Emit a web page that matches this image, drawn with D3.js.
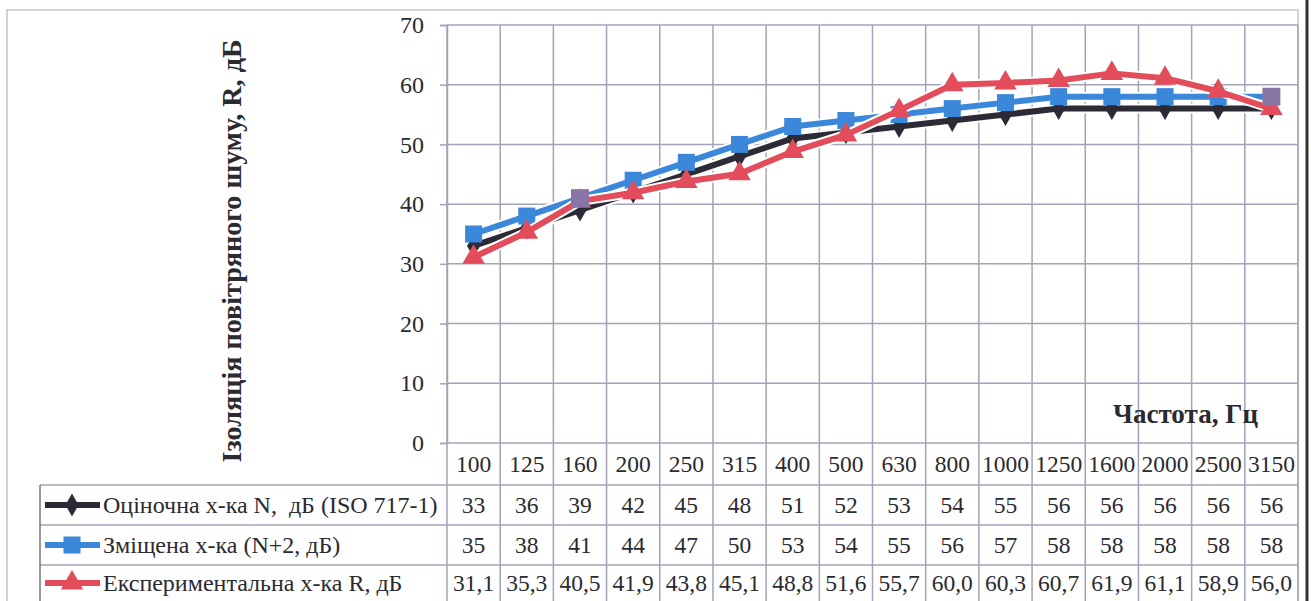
<!DOCTYPE html>
<html>
<head>
<meta charset="utf-8">
<script src="https://cdn.jsdelivr.net/npm/d3@7"></script>
<style>
  body { margin: 0; background: #fff; }
  svg { display: block; }
  text { font-family: "Liberation Serif", "Times New Roman", serif; fill: #2a2a30; white-space: pre; }
</style>
</head>
<body>
<svg id="chart" width="1311" height="601"></svg>
<script>
// ---- data ----
const frequencies = ["100","125","160","200","250","315","400","500","630","800","1000","1250","1600","2000","2500","3150"];
const seriesNames = ["Оціночна х-ка N,  дБ (ISO 717-1)", "Зміщена х-ка (N+2, дБ)", "Експериментальна х-ка R, дБ"];
const valuesN  = [33,36,39,42,45,48,51,52,53,54,55,56,56,56,56,56];
const valuesN2 = [35,38,41,44,47,50,53,54,55,56,57,58,58,58,58,58];
const valuesR  = [31.1,35.3,40.5,41.9,43.8,45.1,48.8,51.6,55.7,60.0,60.3,60.7,61.9,61.1,58.9,56.0];
const labelsN  = ["33","36","39","42","45","48","51","52","53","54","55","56","56","56","56","56"];
const labelsN2 = ["35","38","41","44","47","50","53","54","55","56","57","58","58","58","58","58"];
const labelsR  = ["31,1","35,3","40,5","41,9","43,8","45,1","48,8","51,6","55,7","60,0","60,3","60,7","61,9","61,1","58,9","56,0"];
const yTicks = [0,10,20,30,40,50,60,70];
const highlightFreqs = ["160","3150"];
const yTitle = "Ізоляція повітряного шуму, R, дБ";
const xTitle = "Частота, Гц";

// ---- layout ----
const svg = d3.select("#chart");
const L = 447, R = 1298, T = 25, B = 443;
const rowY = [443, 485, 525, 565, 601];
const legendLeft = 40;
const gridColor = "#a3a3b8";
const fs = 23.5;

const x = d3.scaleBand().domain(frequencies).range([L, R]);
const y = d3.scaleLinear().domain([0, 70]).range([B, T]);

// outer chart frame
svg.append("rect").attr("x", 7).attr("y", 10).attr("width", R - 7).attr("height", 620)
  .attr("fill", "none").attr("stroke", "#c4c4cc").attr("stroke-width", 1.5);
svg.append("line").attr("x1", 1307).attr("x2", 1307).attr("y1", 0).attr("y2", 601)
  .attr("stroke", "#333").attr("stroke-width", 3);

// horizontal gridlines
svg.append("g").selectAll("line").data(yTicks.filter(d => d > 0)).join("line")
  .attr("x1", L).attr("x2", R).attr("y1", d => y(d)).attr("y2", d => y(d))
  .attr("stroke", gridColor).attr("stroke-width", 1.5);

// vertical gridlines (category boundaries), extend through table
const bounds = frequencies.map(f => x(f)).concat([R]);
svg.append("g").selectAll("line").data(bounds).join("line")
  .attr("x1", d => d).attr("x2", d => d).attr("y1", T).attr("y2", 601)
  .attr("stroke", gridColor).attr("stroke-width", 1.5);

// y axis
const yAxis = d3.axisLeft(y).tickValues(yTicks).tickSize(7).tickPadding(16);
const ya = svg.append("g").attr("transform", `translate(${L},0)`).call(yAxis);
ya.select(".domain").attr("stroke", gridColor).attr("stroke-width", 1.5);
ya.selectAll(".tick line").attr("stroke", gridColor).attr("stroke-width", 1.5);
ya.selectAll(".tick text").attr("font-size", 24).attr("fill", "#2a2a30")
  .style("font-family", "'Liberation Serif', serif");

// table horizontal lines
rowY.slice(0, 4).forEach((yy, i) => {
  svg.append("line").attr("x1", i === 0 ? L : legendLeft).attr("x2", R)
    .attr("y1", yy).attr("y2", yy).attr("stroke", gridColor).attr("stroke-width", 1.5);
});
svg.append("line").attr("x1", legendLeft).attr("x2", legendLeft).attr("y1", rowY[1]).attr("y2", 601)
  .attr("stroke", "#777").attr("stroke-width", 1.5);

// frequency row
svg.append("g").selectAll("text").data(frequencies).join("text")
  .attr("x", d => x(d) + x.bandwidth() / 2).attr("y", (rowY[0] + rowY[1]) / 2 + 8)
  .attr("text-anchor", "middle").attr("font-size", fs).text(d => d);

const rowLabels = [labelsN, labelsN2, labelsR];
rowLabels.forEach((labs, r) => {
  svg.append("g").selectAll("text").data(labs).join("text")
    .attr("x", (d, i) => x(frequencies[i]) + x.bandwidth() / 2)
    .attr("y", (rowY[r + 1] + rowY[r + 2]) / 2 + 8)
    .attr("text-anchor", "middle").attr("font-size", fs).text(d => d);
});

// series
const colors = ["#2b2a35", "#3b88da", "#e34d5b"];
const purple = "#8a76a6";
const series = [valuesN, valuesN2, valuesR];
const symbols = [d3.symbolDiamond, d3.symbolSquare, d3.symbolTriangle];
const symSizes = [150, 290, 220];
const line = d3.line().x((d, i) => x(frequencies[i]) + x.bandwidth() / 2).y(d => y(d));

series.forEach((vals, s) => {
  const g = svg.append("g");
  g.append("path").datum(vals).attr("d", line).attr("fill", "none")
    .attr("stroke", "#fff").attr("stroke-width", 10).attr("stroke-linejoin", "round");
  g.append("path").datum(vals).attr("d", line).attr("fill", "none")
    .attr("stroke", colors[s]).attr("stroke-width", 6).attr("stroke-linejoin", "round");
  g.selectAll("path.m").data(vals).join("path").attr("class", "m")
    .attr("transform", (d, i) => `translate(${x(frequencies[i]) + x.bandwidth() / 2},${y(d)})`)
    .attr("d", d3.symbol().type(symbols[s]).size(symSizes[s]))
    .attr("fill", (d, i) => (s === 1 && highlightFreqs.includes(frequencies[i])) ? purple : colors[s]);
});
// highlighted markers on top
svg.append("g").selectAll("path").data(highlightFreqs).join("path")
  .attr("transform", f => `translate(${x(f) + x.bandwidth() / 2},${y(valuesN2[frequencies.indexOf(f)])})`)
  .attr("d", d3.symbol().type(d3.symbolSquare).size(320)).attr("fill", purple);

// legend keys
series.forEach((vals, s) => {
  const cy = (rowY[s + 1] + rowY[s + 2]) / 2;
  svg.append("line").attr("x1", 45).attr("x2", 100).attr("y1", cy).attr("y2", cy)
    .attr("stroke", colors[s]).attr("stroke-width", 6);
  svg.append("path").attr("transform", `translate(72,${cy})`)
    .attr("d", d3.symbol().type(symbols[s]).size(symSizes[s])).attr("fill", colors[s]);
  svg.append("text").attr("x", 103).attr("y", cy + 8).attr("font-size", 24).text(seriesNames[s]);
});

// axis titles
const yt = svg.append("text").attr("transform", "translate(241,251) rotate(-90)")
  .attr("text-anchor", "middle").attr("font-weight", "bold").attr("font-size", 23).text(yTitle);
const len = yt.node().getComputedTextLength();
yt.attr("font-size", 23 * 423 / len);

const xt = svg.append("text").attr("x", 1258).attr("y", 423).attr("text-anchor", "end")
  .attr("font-weight", "bold").attr("font-size", 21).text(xTitle);
const xl = xt.node().getComputedTextLength();
xt.attr("font-size", 21 * 145 / xl);
</script>
</body>
</html>
